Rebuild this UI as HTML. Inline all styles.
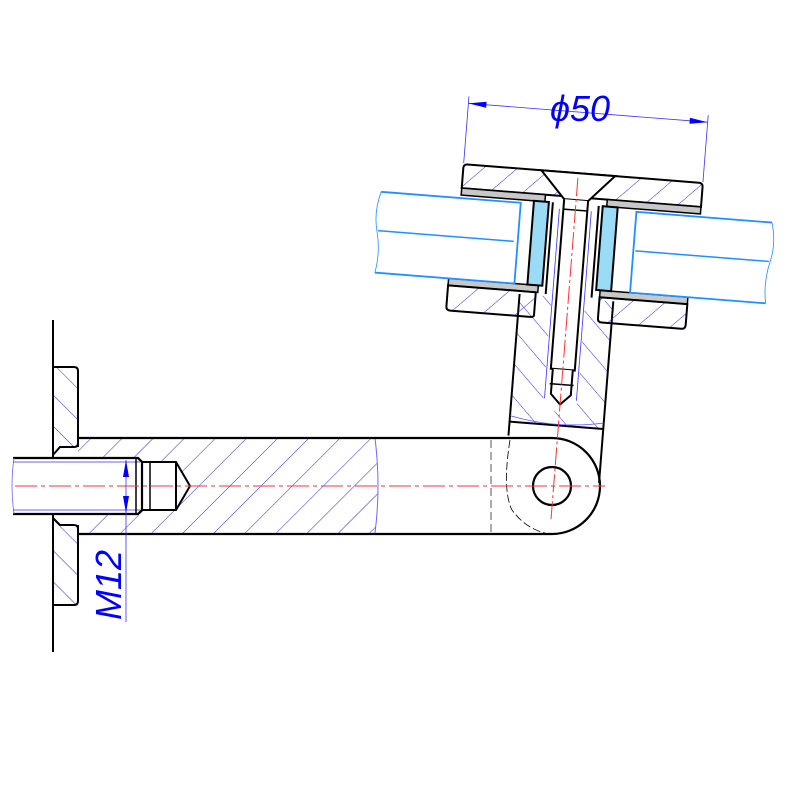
<!DOCTYPE html>
<html><head><meta charset="utf-8"><style>html,body{margin:0;padding:0;background:#fff}svg{display:block}</style></head>
<body>
<svg width="800" height="800" viewBox="0 0 800 800" xmlns="http://www.w3.org/2000/svg">
<defs>
<pattern id="h1" patternUnits="userSpaceOnUse" width="22" height="22" patternTransform="rotate(45)">
<line x1="0" y1="0" x2="0" y2="22" stroke="#2a2aff" stroke-width="1"/></pattern>
<pattern id="h2" patternUnits="userSpaceOnUse" width="22" height="22" patternTransform="rotate(-45)">
<line x1="0" y1="0" x2="0" y2="22" stroke="#2a2aff" stroke-width="1"/></pattern>
</defs>
<!-- wall -->
<line x1="53" y1="320" x2="53" y2="652" stroke="#000" stroke-width="2"/>
<path d="M53,367 H74 Q78,367 78,371 V443 Q78,447 74,447 H60 L53,455 Z" fill="url(#h2)" stroke="#000" stroke-width="2"/>
<path d="M53,605 H74 Q78,605 78,601 V529 Q78,525 74,525 H60 L53,518 Z" fill="url(#h2)" stroke="#000" stroke-width="2"/>
<!-- arm -->
<path d="M78,438 H552 A48,48 0 0 1 552,534 H78 Z" fill="#fff" stroke="none"/>
<path d="M78,438 H375 Q381,486 375,533 H78 Z" fill="url(#h1)"/>
<rect x="13" y="458" width="127" height="57" fill="#fff"/>
<path d="M140,462 H176 L190,486 L176,510 H140 Z" fill="#fff"/>
<path d="M375,438 Q381,486 375,533" fill="none" stroke="#6a6aff" stroke-width="1"/>
<path d="M78,438 H552 A48,48 0 0 1 552,534 H78" fill="none" stroke="#000" stroke-width="2.2"/>
<line x1="78" y1="438" x2="78" y2="447" stroke="#000" stroke-width="2"/>
<line x1="78" y1="525" x2="78" y2="533" stroke="#000" stroke-width="2"/>
<!-- rod -->
<path d="M13,458 H138 L142,462 V510 L138,514 H13" fill="none" stroke="#000" stroke-width="2.2"/>
<path d="M14,458 Q10,486 14,514" fill="none" stroke="#66f" stroke-width="0.8"/>
<path d="M13,462 H140 M13,510 H140" fill="none" stroke="#33f" stroke-width="0.8"/>
<line x1="136" y1="458" x2="136" y2="514" stroke="#000" stroke-width="1.5"/>
<line x1="150" y1="462" x2="150" y2="510" stroke="#000" stroke-width="1.5"/>
<path d="M142,462 H176 L190,486 L176,510 H142 M176,462 V510" fill="none" stroke="#000" stroke-width="2"/>
<!-- hole & dashed -->
<circle cx="552" cy="486" r="19" fill="none" stroke="#000" stroke-width="2.2"/>
<line x1="491" y1="440" x2="491" y2="532" stroke="#aaa" stroke-width="2" stroke-dasharray="8,4"/>
<path d="M510,440 Q502,490 512,510 Q525,528 545,533" fill="none" stroke="#000" stroke-width="0.8" stroke-dasharray="8,3"/>
<!-- top assembly rotated -->
<g transform="rotate(4.5 573 240)">
 <path d="M524,298 H618 V426 H524 Z" fill="url(#h2)"/>
 <rect x="556" y="296" width="34" height="116" fill="#fff"/>
 <path d="M524,298 V440 M618,298 V480" stroke="#000" stroke-width="2" fill="none"/>
 <line x1="524" y1="426" x2="618" y2="426" stroke="#000" stroke-width="2"/>
 <path d="M524,420 Q571,430 618,420" stroke="#55f" stroke-width="0.8" fill="none"/>
 <path d="M462,173 H694 Q698,173 698,177 V197 H458 V177 Q458,173 462,173 Z" fill="url(#h1)" stroke="#000" stroke-width="2"/>
 <path d="M536,173 L561,200 H585 L610,173 Z" fill="#fff" stroke="#000" stroke-width="2"/>
 <rect x="458" y="197" width="84" height="7" fill="#c8c8c8" stroke="#000" stroke-width="1.5"/>
 <rect x="604" y="197" width="94" height="7" fill="#c8c8c8" stroke="#000" stroke-width="1.5"/>
 <rect x="452" y="288" width="90" height="7" fill="#c8c8c8" stroke="#000" stroke-width="1.5"/>
 <rect x="604" y="288" width="88" height="7" fill="#c8c8c8" stroke="#000" stroke-width="1.5"/>
 <path d="M452,295 H540 V318 Q540,320 536,320 H456 Q452,320 452,316 Z" fill="url(#h1)" stroke="#000" stroke-width="2"/>
 <path d="M604,295 H692 V316 Q692,320 688,320 H608 Q604,320 604,316 Z" fill="url(#h1)" stroke="#000" stroke-width="2"/>
 <!-- glass -->
 <path d="M378,207 H518 V288 H378" fill="#fff" stroke="#1e90ff" stroke-width="1.8"/>
 <path d="M378,207 Q372,228 377,247 Q382,268 378,288" fill="none" stroke="#1e90ff" stroke-width="0.8"/>
 <line x1="378" y1="246" x2="514" y2="246" stroke="#1e90ff" stroke-width="1.5"/>
 <path d="M770,207 H634 V288 H770" fill="#fff" stroke="#1e90ff" stroke-width="1.8"/>
 <path d="M770,207 Q776,228 771,247 Q766,268 770,288" fill="none" stroke="#1e90ff" stroke-width="0.8"/>
 <line x1="770" y1="246" x2="636" y2="246" stroke="#1e90ff" stroke-width="1.5"/>
 <rect x="531" y="204" width="15" height="84" fill="#9adcf5" stroke="#000" stroke-width="2"/>
 <rect x="600" y="204" width="15" height="84" fill="#9adcf5" stroke="#000" stroke-width="2"/>
 <line x1="550" y1="204" x2="550" y2="296" stroke="#000" stroke-width="2"/>
 <line x1="596" y1="204" x2="596" y2="296" stroke="#000" stroke-width="2"/>
 <path d="M561,200 V370 H585 V200" fill="#fff" stroke="#000" stroke-width="2"/>
 <line x1="561" y1="210" x2="585" y2="210" stroke="#000" stroke-width="1.5"/>
 <path d="M563,370 V395 L573,405 L583,395 V370" fill="#fff" stroke="#000" stroke-width="2"/>
 <line x1="561" y1="385" x2="585" y2="385" stroke="#000" stroke-width="1.5"/>
 <path d="M557,210 V400 M589,210 V400" stroke="#33f" stroke-width="0.8"/>
 <line x1="573" y1="178" x2="573" y2="520" stroke="#f33" stroke-width="1" stroke-dasharray="18,3,3,3"/>
 <line x1="458" y1="172" x2="458" y2="105" stroke="#33f" stroke-width="0.8"/>
 <line x1="698" y1="172" x2="698" y2="105" stroke="#33f" stroke-width="0.8"/>
 <line x1="458" y1="112" x2="698" y2="112" stroke="#33f" stroke-width="0.8"/>
 <path d="M458,112 L476,109 L476,115 Z M698,112 L680,109 L680,115 Z" fill="#00f"/>
</g>
<text x="550" y="121" font-family="Liberation Sans, sans-serif" font-size="36" font-style="italic" fill="#0000ff">ϕ50</text>
<line x1="15" y1="486" x2="605" y2="486" stroke="#f33" stroke-width="1" stroke-dasharray="22,4,4,4"/>
<line x1="126" y1="460" x2="126" y2="622" stroke="#33f" stroke-width="0.8"/>
<path d="M126,460 L123,477 L129,477 Z M126,513 L123,496 L129,496 Z" fill="#00f"/>
<text transform="translate(121,620) rotate(-90)" font-family="Liberation Sans, sans-serif" font-size="36" font-style="italic" fill="#0000ff">M12</text>
</svg>
</body></html>
